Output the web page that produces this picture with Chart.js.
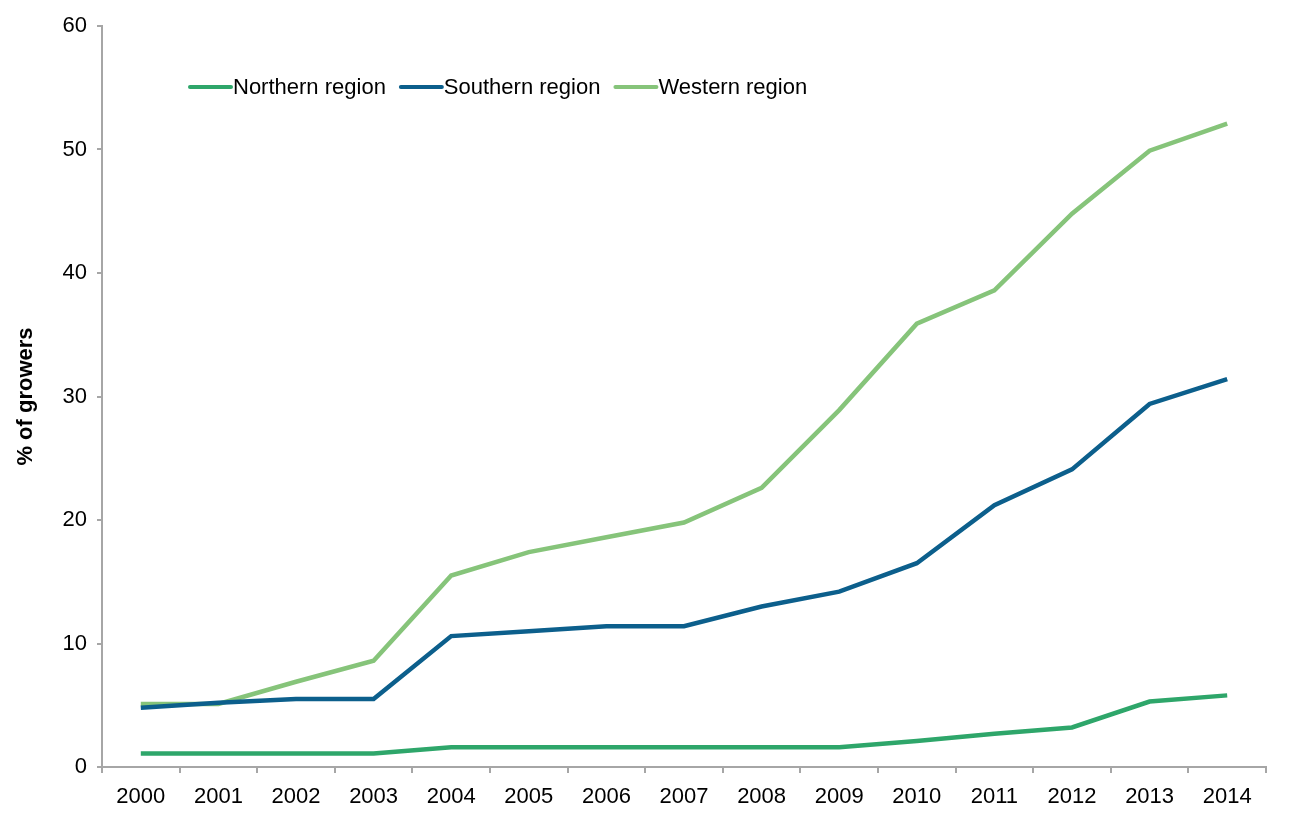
<!DOCTYPE html>
<html lang="en">
<head>
    <meta charset="UTF-8">
    <title>% of growers by region</title>
    <style>
        body { margin: 0; background: #fff; }
        #wrap { width: 1293px; height: 815px; }
    </style>
</head>
<body>
<div id="wrap">
    <canvas id="growersChart" width="1293" height="815"></canvas>
</div>

<script src="https://cdn.jsdelivr.net/npm/chart.js"></script>
<script>
    // values
    const years = ['2000', '2001', '2002', '2003', '2004', '2005', '2006', '2007',
                   '2008', '2009', '2010', '2011', '2012', '2013', '2014'];
    const northern = [1.1, 1.1, 1.1, 1.1, 1.6, 1.6, 1.6, 1.6, 1.6, 1.6, 2.1, 2.7, 3.2, 5.3, 5.8];
    const southern = [4.8, 5.2, 5.5, 5.5, 10.6, 11.0, 11.4, 11.4, 13.0, 14.2, 16.5, 21.2, 24.1, 29.4, 31.4];
    const western  = [5.1, 5.1, 6.9, 8.6, 15.5, 17.4, 18.6, 19.8, 22.6, 28.9, 35.9, 38.6, 44.8, 49.9, 52.1];
    const seriesNames = ['Northern region', 'Southern region', 'Western region'];
    const seriesColors = ['#2ea66a', '#0c5f8c', '#86c47a'];

    const FONT = '"Liberation Sans", Arial, Helvetica, sans-serif';
    const AXIS_GREY = '#a6a6a6';

    // legend sits inside the plot, so draw it by hand
    const insideLegend = {
        id: 'insideLegend',
        afterDraw(chart) {
            const ctx = chart.ctx;
            ctx.save();
            ctx.font = '22px ' + FONT;
            ctx.textBaseline = 'middle';
            let x = 190;
            const y = 88;
            chart.data.datasets.forEach(ds => {
                ctx.strokeStyle = ds.borderColor;
                ctx.lineWidth = 4;
                ctx.lineCap = 'round';
                ctx.beginPath();
                ctx.moveTo(x, y - 1);
                ctx.lineTo(x + 41, y - 1);
                ctx.stroke();
                ctx.fillStyle = '#000';
                ctx.fillText(ds.label, x + 43, y);
                x += 43 + ctx.measureText(ds.label).width + 15;
            });
            ctx.restore();
        }
    };

    const ctx = document.getElementById('growersChart').getContext('2d');
    const growersChart = new Chart(ctx, {
        type: 'line',
        data: {
            labels: years,
            datasets: [northern, southern, western].map((vals, i) => ({
                label: seriesNames[i],
                data: vals,
                borderColor: seriesColors[i],
                backgroundColor: seriesColors[i],
                borderWidth: 4.5,
                pointRadius: 0,
                tension: 0,
                fill: false
            }))
        },
        options: {
            responsive: false,
            animation: false,
            devicePixelRatio: 1,
            layout: { padding: { top: 26, right: 27, bottom: 0, left: 0 } },
            plugins: {
                legend: { display: false },
                tooltip: { enabled: false }
            },
            scales: {
                x: {
                    offset: true,
                    grid: {
                        offset: true,
                        drawOnChartArea: false,
                        drawTicks: true,
                        tickLength: 6,
                        color: AXIS_GREY,
                        lineWidth: 2
                    },
                    border: { color: AXIS_GREY, width: 2 },
                    ticks: {
                        color: '#000',
                        font: { family: FONT, size: 22 },
                        padding: 11,
                        maxRotation: 0
                    },
                    afterFit(scale) { scale.height = 48; }
                },
                y: {
                    min: 0,
                    max: 60,
                    grid: {
                        drawOnChartArea: false,
                        drawTicks: true,
                        tickLength: 5,
                        color: AXIS_GREY,
                        lineWidth: 2
                    },
                    border: { color: AXIS_GREY, width: 2 },
                    ticks: {
                        stepSize: 10,
                        color: '#000',
                        font: { family: FONT, size: 22 },
                        padding: 10
                    },
                    title: {
                        display: true,
                        text: '% of growers',
                        color: '#000',
                        font: { family: FONT, size: 22, weight: 'bold' },
                        padding: { top: 13, bottom: 0 }
                    },
                    afterFit(scale) { scale.width = 102; }
                }
            }
        },
        plugins: [insideLegend]
    });
</script>
</body>
</html>
